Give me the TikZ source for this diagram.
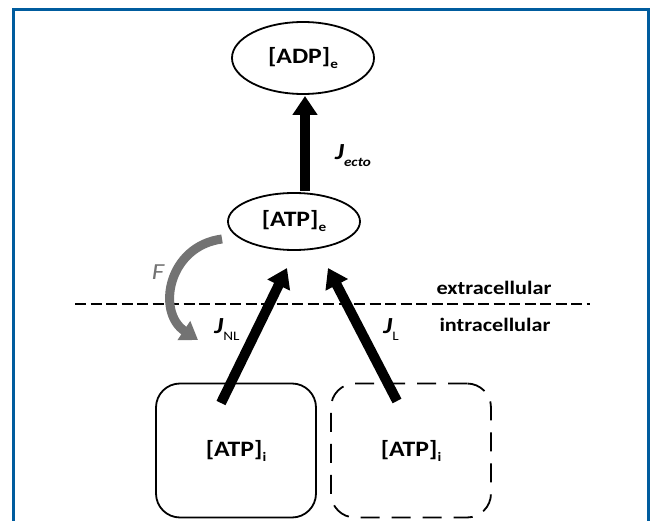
\documentclass[tikz,border=0pt]{standalone}
\usepackage{fontspec}
\setmainfont{Carlito}[FakeStretch=1.17]
\usetikzlibrary{arrows.meta,shapes.geometric}
\newcommand{\mysub}[2][-5pt]{\raisebox{#1}{\fontsize{13}{13}\selectfont #2}}
\definecolor{frameblue}{RGB}{0,92,158}
\definecolor{fgray}{RGB}{115,115,115}
\tikzset{
  species/.style={ellipse, draw=black, line width=1.8pt, inner sep=0pt,
    font=\fontsize{22}{26}\selectfont\bfseries},
  poolbox/.style={rectangle, rounded corners=24pt, draw=black, line width=1.8pt,
    minimum width=160pt, minimum height=134pt, inner sep=0pt,
    font=\fontsize{22}{26}\selectfont\bfseries},
  flux/.style={line width=10pt, -{Triangle[width=24pt,length=19pt]}},
  fluxlabel/.style={inner sep=0pt, font=\fontsize{23}{26}\selectfont\bfseries\itshape},
  sidelabel/.style={inner sep=0pt, font=\fontsize{19}{22}\selectfont\bfseries}
}
\begin{document}
\begin{tikzpicture}[x=1pt,y=-1pt]
\useasboundingbox (0,0) rectangle (651,521);
\fill[white] (0,0) rectangle (651,521);
% frame
\draw[frameblue, line width=3pt] (13.5,540) -- (13.5,9.5) -- (648.5,9.5) -- (648.5,540);
% membrane
\draw[line width=2pt, dash pattern=on 11pt off 4.5pt] (75,304) coordinate (m1) -- (590,304) coordinate (m2);
\node[sidelabel] (ext) at (494,288) {extracellular};
\node[sidelabel] (int) at (495,325) {intracellular};
% species
\node[species, minimum width=142pt, minimum height=72pt] (adp) at (303,58) {[ADP]\mysub{e}};
\node[species, minimum width=132pt, minimum height=57pt] (atpe) at (294,221.5) {[ATP]\mysub{e}};
\node[poolbox] (b1) at (236,450.5) {[ATP]\mysub{i}};
\node[poolbox, dash pattern=on 19pt off 12pt] (b2) at (411,450.5) {[ATP]\mysub{i}};
% fluxes
\coordinate (e0) at (305,191);
\coordinate (e1) at (305,96);
\draw[flux] (e0) -- (e1);
\coordinate (s1) at (221,403);
\coordinate (t1) at (287,268);
\draw[flux] (s1) -- (t1);
\coordinate (s2) at (397,401);
\coordinate (t2) at (328,268);
\draw[flux] (s2) -- (t2);
% F arrow
\coordinate (f0) at (222,239);
\coordinate (f1) at (198,340);
\draw[fgray, line width=9pt, -{Triangle[width=22pt,length=17pt]}] (f0) .. controls (168,246) and (156,312) .. (f1);
\node[inner sep=0pt, text=fgray, font=\fontsize{23}{26}\selectfont\itshape] (F) at (158,272) {F};
% flux labels
\node[fluxlabel] (jecto) at (353,156) {J\mysub[-7pt]{ecto}};
\node[fluxlabel] (jnl) at (227,330) {J\mysub[-7pt]{\upshape\mdseries NL}};
\node[fluxlabel] (jl) at (391,330) {J\mysub[-7pt]{\upshape\mdseries L}};
\end{tikzpicture}
\end{document}
